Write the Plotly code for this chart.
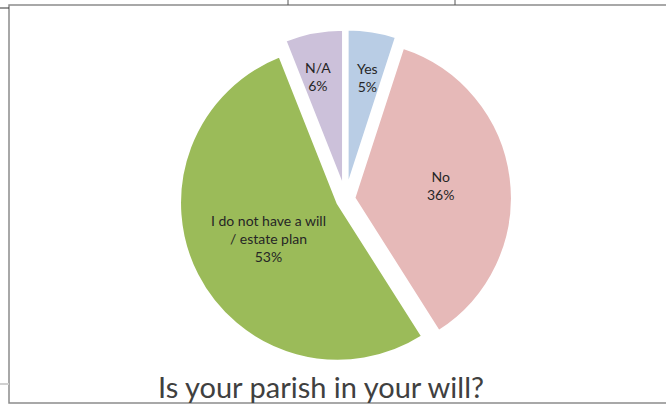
import math
import plotly.graph_objects as go

# survey answers
labels = ["Yes", "No", "I do not have a will / estate plan", "N/A"]
label_text = ["Yes", "No", "I do not have a will<br>/ estate plan", "N/A"]
values = [5, 36, 53, 6]
colors = ["#B9CDE5", "#E6B9B8", "#9BBB59", "#CCC1DA"]

title = "Is your parish in your will?"

W, H = 666, 404
pulls = [0.075, 0.055, 0.055, 0.075]
# how far out (fraction of radius) each label sits
label_r = [0.83, 0.65, 0.495, 0.84]

dom_x = [0.2188, 0.8188]
dom_y = [0.0870, 0.9278]

fig = go.Figure(go.Pie(
    labels=labels,
    values=values,
    sort=False,
    direction="clockwise",
    rotation=0,
    pull=pulls,
    marker=dict(colors=colors, line=dict(color="white", width=2.5)),
    textinfo="none",
    showlegend=False,
    domain=dict(x=dom_x, y=dom_y),
))

# place the labels the way excel does, from the slice angles
cx = W * sum(dom_x) / 2
cy = H * (1 - sum(dom_y) / 2)
box = min(W * (dom_x[1] - dom_x[0]), H * (dom_y[1] - dom_y[0]))
r = box / (2 + 2 * max(pulls))
total = sum(values)
start = 0
annos = []
for txt, v, p, f in zip(label_text, values, pulls, label_r):
    mid = (start + v / 2) / total * 2 * math.pi
    start += v
    d = (p + f) * r
    px = cx + d * math.sin(mid)
    py = cy - d * math.cos(mid)
    pct = round(v / total * 100)
    annos.append(dict(
        x=px / W, y=1 - py / H, xref="paper", yref="paper",
        text="%s<br>%d%%" % (txt, pct), showarrow=False,
        font=dict(family="Lato", size=14, color="#262626"),
        align="center",
    ))

# title sits low, its descenders run off the bottom like the screenshot
annos.append(dict(
    x=321 / W, y=1 - 406 / H, xref="paper", yref="paper",
    text=title, showarrow=False,
    font=dict(family="Lato", size=29, color="#404040"),
))

fig.update_layout(
    width=W,
    height=H,
    margin=dict(l=0, r=0, t=0, b=0),
    paper_bgcolor="white",
    annotations=annos,
    shapes=[
        # chart frame
        dict(type="rect", xref="paper", yref="paper",
             x0=9 / W, x1=1.02, y0=1 - 403 / H, y1=1 - 5 / H,
             line=dict(color="#8C8C8C", width=1.5)),
        # bits of the sheet behind
        dict(type="line", xref="paper", yref="paper",
             x0=288 / W, x1=288 / W, y0=1, y1=1 - 5 / H,
             line=dict(color="#555555", width=1)),
        dict(type="line", xref="paper", yref="paper",
             x0=455 / W, x1=455 / W, y0=1, y1=1 - 5 / H,
             line=dict(color="#555555", width=1)),
        dict(type="line", xref="paper", yref="paper",
             x0=0, x1=9 / W, y0=1 - 8 / H, y1=1 - 8 / H,
             line=dict(color="#333333", width=1)),
        dict(type="line", xref="paper", yref="paper",
             x0=0, x1=9 / W, y0=1 - 384 / H, y1=1 - 384 / H,
             line=dict(color="#D0D0D0", width=2)),
    ],
)

# page has an 8px body margin by default, drop it so the chart sits at 0,0
fig.write_html("out.html", config={"displayModeBar": False},
               post_script="document.body.style.margin='0px';")
